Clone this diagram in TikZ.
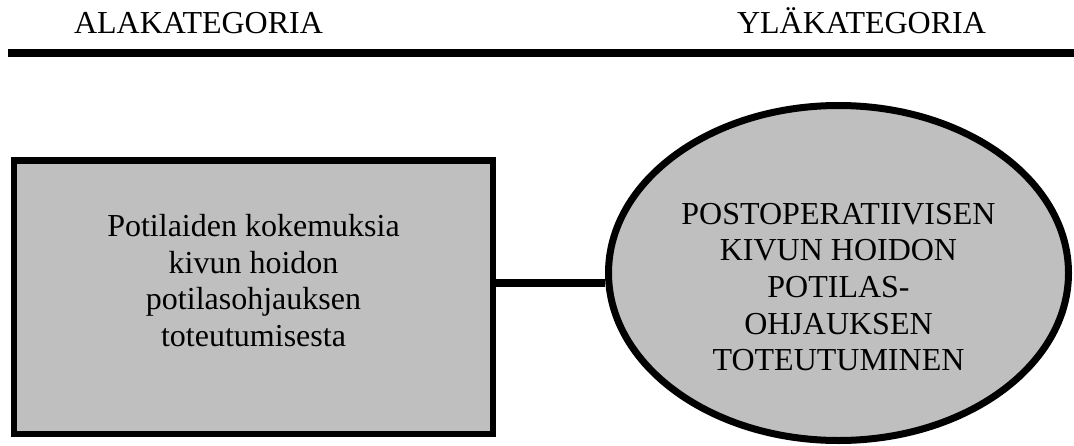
\documentclass[tikz,border=0pt]{standalone}
\usepackage{fontspec}
\setmainfont{Liberation Serif}
\usetikzlibrary{shapes.geometric}
\definecolor{shade}{RGB}{191,191,191}
\begin{document}
\begin{tikzpicture}[x=1pt,y=-1pt,
  heading/.style={anchor=base,inner sep=0pt,font=\fontsize{32}{36.7}\selectfont},
  bodytext/.style={align=center,inner sep=0pt,font=\fontsize{32}{36.7}\selectfont},
  catbox/.style={draw=black,line width=6.5pt,fill=shade,rectangle,inner sep=0pt},
  catoval/.style={draw=black,line width=7pt,fill=shade,ellipse,inner sep=0pt},
  rule/.style={line width=8pt,line cap=butt},
  link/.style={line width=8pt,line cap=butt}]
  \useasboundingbox (0,0) rectangle (1074,445);

  % column headings and the rule beneath them
  \node[heading] (hleft) at (198.5,33) {ALAKATEGORIA};
  \node[heading] (hright) at (861.5,33) {YLÄKATEGORIA};
  \coordinate (rl) at (8,53);
  \coordinate (rr) at (1074,53);
  \draw[rule] (rl) -- (rr);

  % subcategory box
  \node[catbox,minimum width=479pt,minimum height=273.5pt] (box) at (253.5,297.25) {};
  \node[bodytext] (boxtext) at (253.5,280.5) {Potilaiden kokemuksia\\kivun hoidon\\potilasohjauksen\\toteutumisesta};

  % main category ellipse
  \node[catoval,minimum width=460pt,minimum height=335pt] (ell) at (838.5,273) {};
  \node[bodytext] (elltext) at (838.5,287) {POSTOPERATIIVISEN\\KIVUN HOIDON\\POTILAS-\\OHJAUKSEN\\TOTEUTUMINEN};

  % connector between the two
  \coordinate (jy) at (0,283);
  \draw[link] (box.east |- jy) -- (ell.west |- jy);
\end{tikzpicture}
\end{document}
